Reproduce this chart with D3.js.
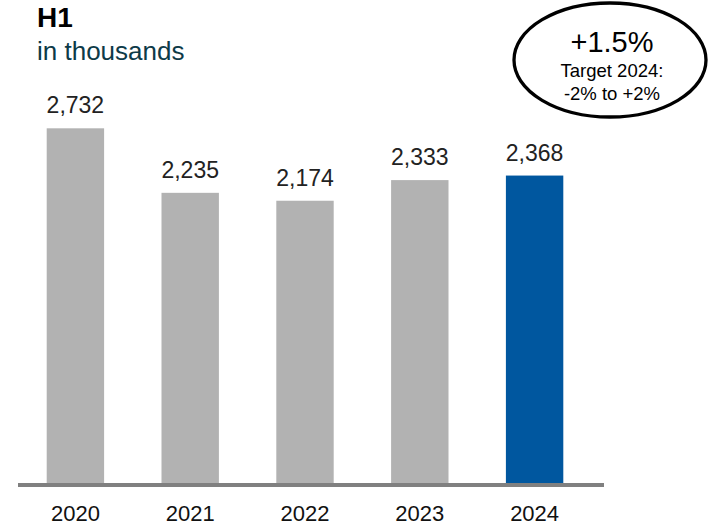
<!DOCTYPE html>
<html>
<head>
<meta charset="utf-8">
<script src="https://cdn.jsdelivr.net/npm/d3@7"></script>
<style>
  html, body { margin: 0; padding: 0; background: #fff; }
  svg { display: block; font-family: "Liberation Sans", Arial, sans-serif; }
</style>
</head>
<body>
<svg id="chart" width="708" height="527"></svg>
<script>
// Half-year figures, in thousands
const years = ["2020", "2021", "2022", "2023", "2024"];
const values = [2732, 2235, 2174, 2333, 2368];
const valueLabels = ["2,732", "2,235", "2,174", "2,333", "2,368"];
const highlightYear = "2024";
const calloutLines = ["+1.5%", "Target 2024:", "-2% to +2%"];

const svg = d3.select("#chart");
const baseline = 483;

const x = d3.scaleBand().domain(years).range([18, 592]).paddingInner(0.5).paddingOuter(0.25);
const y = d3.scaleLinear().domain([0, 2732]).range([baseline, 128.3]);

// Bars
svg.selectAll("rect.bar")
  .data(years)
  .enter().append("rect")
  .attr("class", "bar")
  .attr("x", d => x(d))
  .attr("width", x.bandwidth())
  .attr("y", (d, i) => y(values[i]))
  .attr("height", (d, i) => baseline - y(values[i]))
  .attr("fill", d => d === highlightYear ? "#00579f" : "#b2b2b2");

// Value labels above the bars
svg.selectAll("text.val")
  .data(years)
  .enter().append("text")
  .attr("class", "val")
  .attr("x", d => x(d) + x.bandwidth() / 2)
  .attr("y", (d, i) => y(values[i]) - 15)
  .attr("text-anchor", "middle")
  .attr("font-size", 23)
  .attr("fill", "#222")
  .text((d, i) => valueLabels[i]);

// Baseline axis
svg.append("line")
  .attr("x1", 18).attr("x2", 604)
  .attr("y1", baseline + 2).attr("y2", baseline + 2)
  .attr("stroke", "#808080").attr("stroke-width", 4);

// Year labels
const xAxis = d3.axisBottom(x).tickSize(0).tickPadding(0);
const gx = svg.append("g").attr("transform", "translate(0, 521)").call(xAxis);
gx.select(".domain").remove();
gx.selectAll("text")
  .attr("y", 0)
  .attr("dy", 0)
  .attr("font-size", 22)
  .attr("font-family", "\"Liberation Sans\", Arial, sans-serif")
  .attr("fill", "#111");

// Titles
svg.append("text").attr("x", 37).attr("y", 27)
  .attr("font-size", 28).attr("font-weight", "bold").attr("fill", "#000").text("H1");
svg.append("text").attr("x", 37).attr("y", 60)
  .attr("font-size", 26).attr("fill", "#0d3a48").text("in thousands");

// Callout ellipse
const cx = 610, cy = 60;
svg.append("ellipse")
  .attr("cx", cx).attr("cy", cy).attr("rx", 96).attr("ry", 57)
  .attr("fill", "#fff").attr("stroke", "#000").attr("stroke-width", 3.3);
svg.append("text").attr("x", 612).attr("y", 52).attr("text-anchor", "middle")
  .attr("font-size", 29).attr("fill", "#000").text(calloutLines[0]);
svg.append("text").attr("x", 612).attr("y", 76.5).attr("text-anchor", "middle")
  .attr("font-size", 18.5).attr("fill", "#000").text(calloutLines[1]);
svg.append("text").attr("x", 612).attr("y", 100).attr("text-anchor", "middle")
  .attr("font-size", 18.5).attr("fill", "#000").text(calloutLines[2]);
</script>
</body>
</html>
